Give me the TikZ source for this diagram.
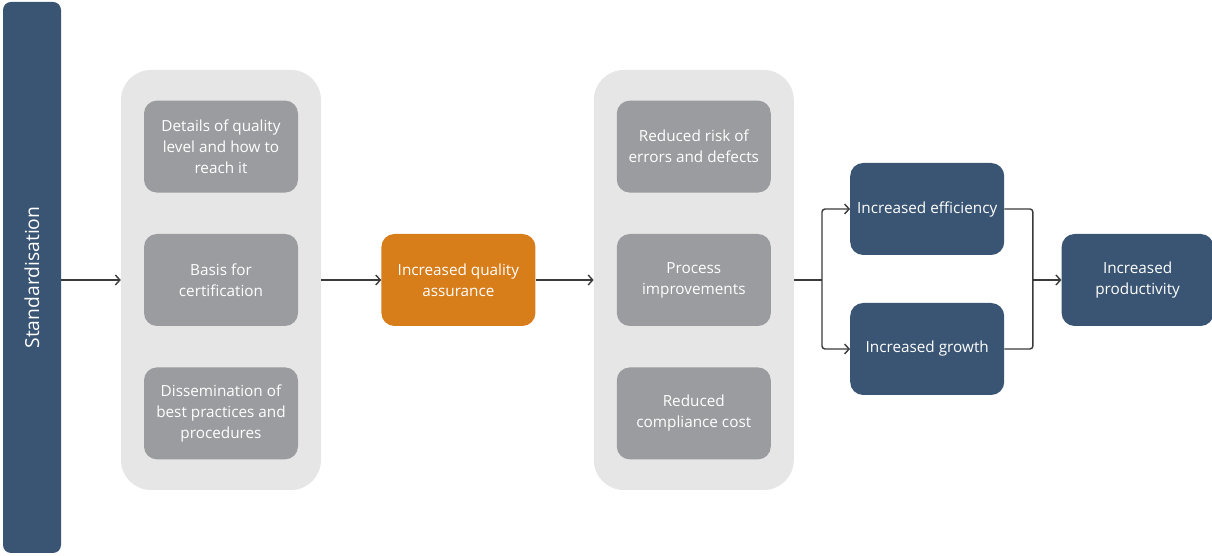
\documentclass[tikz,border=0pt]{standalone}
\usepackage{fontspec}
\setmainfont{Open Sans}
\usepackage{tikz}
\usetikzlibrary{arrows.meta,positioning,calc}
\definecolor{navy}{HTML}{3A5573}
\definecolor{amber}{HTML}{D77D19}
\definecolor{stone}{HTML}{9A9C9F}
\definecolor{panelgray}{HTML}{E6E6E6}
\definecolor{wire}{HTML}{3A3A3A}
\def\boxwidth{154pt}
\def\boxheight{92pt}
\def\boxsep{41pt}
\def\colsep{58pt}

\begin{document}
\begin{tikzpicture}[x=1pt,y=1pt,
    node distance=\boxsep and \colsep,
    myarrow/.style={-{Straight Barb[length=4.5pt,width=10pt]}},
    wire/.style={draw=wire,line width=1.4pt,rounded corners=3pt}]
    \fontsize{15.3}{21}\selectfont
    \tikzstyle{card}=[rounded corners=13pt,minimum width=\boxwidth,minimum height=\boxheight,
        text=white,align=center,inner sep=0pt]
    \tikzstyle{grey card}=[card,fill=stone]
    \tikzstyle{orange card}=[card,fill=amber]
    \tikzstyle{blue card}=[card,fill=navy]
    \tikzstyle{panel}=[rounded corners=30pt,fill=panelgray,minimum width=200pt,minimum height=420pt]

    \useasboundingbox (0,0) rectangle (1212,556);

    % Standardisation bar
    \node[fill=navy,rounded corners=8pt,minimum width=58pt,minimum height=551pt] (S) at (32,278.5)
        {\rotatebox{90}{\fontsize{19.3}{22}\selectfont\color{white}Standardisation}};

    % Draw the two grey panels and the quality box between them
    \node[panel] (P1) at (221,276) {};
    \node[orange card, right=60pt of P1] (Q) {Increased quality\\assurance};
    \node[panel, right=of Q] (P2) {};

    % Draw the cards inside the panels
    \node[grey card] (A-2) at (P1) {Basis for\\certification};
    \node[grey card, above=of A-2] (A-1) {Details of quality\\level and how to\\reach it};
    \node[grey card, below=of A-2] (A-3) {Dissemination of\\best practices and\\procedures};

    \node[grey card] (B-2) at (P2) {Process\\improvements};
    \node[grey card, above=of B-2] (B-1) {Reduced risk of\\errors and defects};
    \node[grey card, below=of B-2] (B-3) {Reduced\\compliance cost};

    % Draw the outcome cards
    \node[blue card, right=56pt of P2.east, yshift=71pt] (E) {Increased efficiency};
    \node[blue card, right=56pt of P2.east, yshift=-69pt] (G) {Increased growth};
    \coordinate (join) at (E.east|-P2.east);
    \node[blue card, minimum width=152pt, right=57pt of join] (R) {Increased\\productivity};

    % Connect the chain
    \draw[wire,myarrow] (S.east|-P1) -- (P1);
    \draw[wire,myarrow] (P1) -- (Q);
    \draw[wire,myarrow] (Q) -- (P2);

    % Fork to the outcomes and merge again
    \coordinate (fork) at ($(P2.east)!0.5!(P2.east-|E.west)$);
    \coordinate (merge) at ($(join)!0.5!(R.west)$);
    \draw[wire] (P2.east) -- (fork);
    \draw[wire,myarrow] (fork) |- (E);
    \draw[wire,myarrow] (fork) |- (G);
    \draw[wire] (E.east) -| (merge);
    \draw[wire] (G.east) -| (merge);
    \draw[wire,myarrow] (merge) -- (R);
\end{tikzpicture}
\end{document}
